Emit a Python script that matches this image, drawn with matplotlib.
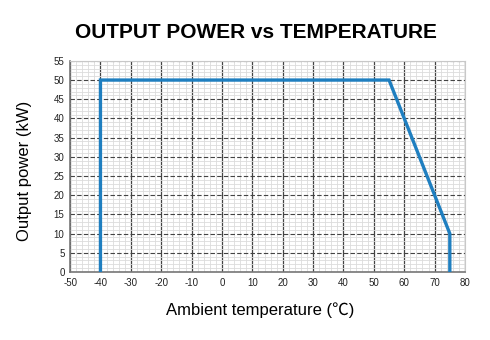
import matplotlib
matplotlib.use("Agg")
import matplotlib.pyplot as plt
from matplotlib.ticker import MultipleLocator

plt.rcParams['font.family'] = ['Liberation Sans', 'DejaVu Sans']
plt.rcParams['axes.unicode_minus'] = False

# Derating curve: output power vs ambient temperature
temp_c = [-40, -40, 55, 75, 75]
power_kw = [0, 50, 50, 10, 0]

x_ticks = list(range(-50, 81, 10))
y_ticks = list(range(0, 56, 5))

fig = plt.figure(figsize=(4.9, 3.4), dpi=100)
ax = fig.add_axes([0.143, 0.2, 0.806, 0.621])

ax.set_xlim(-50, 80)
ax.set_ylim(0, 55)
ax.set_xticks(x_ticks)
ax.set_yticks(y_ticks)
ax.xaxis.set_minor_locator(MultipleLocator(2))
ax.yaxis.set_minor_locator(MultipleLocator(1))

ax.grid(which='minor', color='#dcdcdc', linewidth=0.6, linestyle='-')
ax.grid(which='major', axis='x', color='#444444', linewidth=0.9, linestyle='-')
ax.grid(which='major', axis='y', color='#444444', linewidth=0.8, linestyle=(0, (4, 2)))
ax.set_axisbelow(True)

ax.plot(temp_c, power_kw, color='#1f7fc0', linewidth=2.4, solid_joinstyle='miter', zorder=3)

for side in ['top', 'right']:
    ax.spines[side].set_color('#c8c8c8')
    ax.spines[side].set_linewidth(0.8)
for side in ['left', 'bottom']:
    ax.spines[side].set_color('#777777')
    ax.spines[side].set_linewidth(1.2)

ax.tick_params(which='both', length=0, labelsize=7, pad=4, colors='#222222')

fig.text(260 / 490, 1 - 310 / 340, 'Ambient temperature (℃)', ha='center', va='center',
         fontsize=12, family=['Liberation Sans', 'Noto Sans CJK SC', 'DejaVu Sans'])
fig.text(25 / 490, 1 - 171 / 340, 'Output power (kW)', ha='center', va='center',
         fontsize=12, rotation=90)

fig.text(256 / 490, 0.905, 'OUTPUT POWER vs TEMPERATURE', ha='center', va='center',
         fontsize=15, fontweight='bold')

fig.savefig('out.png', dpi=100)
